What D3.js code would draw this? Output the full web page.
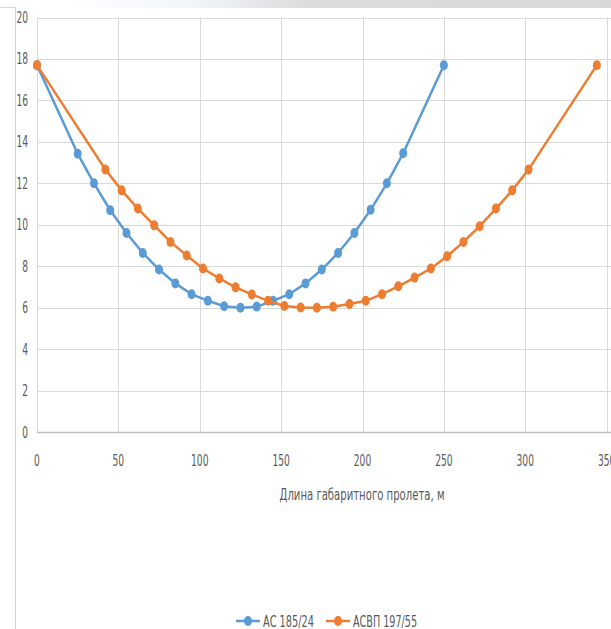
<html>
<head>
  <meta charset="utf-8">
  <style>
    body { margin: 0; background: #fff; }
    svg text { font-family: "Liberation Sans Narrow", "DejaVu Sans Condensed", sans-serif; fill: #595959; }
  </style>
</head>
<body>
  <div id="elm"></div>
  <script src="https://d3js.org/d3.v7.min.js"></script>
  <script>
  'use strict';

  // span length, m
  var acX = [0, 25, 35, 45, 55, 65, 75, 85, 95, 105, 115, 125, 135, 145, 155, 165, 175, 185, 195, 205, 215, 225, 250];
  var acY = [17.7, 13.43, 12.0, 10.7, 9.6, 8.64, 7.84, 7.17, 6.65, 6.33, 6.07, 6.0, 6.05, 6.33, 6.65, 7.17, 7.84, 8.64, 9.6, 10.72, 12.0, 13.45, 17.7];

  var acvpX = [0, 42, 52, 62, 72, 82, 92, 102, 112, 122, 132, 142, 152, 162, 172, 182, 192, 202, 212, 222, 232, 242, 252, 262, 272, 282, 292, 302, 344];
  var acvpY = [17.7, 12.67, 11.66, 10.78, 9.97, 9.17, 8.52, 7.89, 7.41, 6.98, 6.64, 6.33, 6.08, 6.01, 6.0, 6.04, 6.18, 6.33, 6.65, 7.03, 7.45, 7.89, 8.48, 9.17, 9.93, 10.78, 11.66, 12.66, 17.7];

  var xTicks = [0, 50, 100, 150, 200, 250, 300, 350, 400];
  var yTicks = [0, 2, 4, 6, 8, 10, 12, 14, 16, 18, 20];

  var series = [
    { name: 'АС 185/24', color: '#5B9BD5', x: acX, y: acY },
    { name: 'АСВП 197/55', color: '#ED7D31', x: acvpX, y: acvpY }
  ];

  var W = 611, H = 629;
  var svg = d3.select('#elm').append('svg').attr('width', W).attr('height', H);

  // faint strip along the top edge
  var grad = svg.append('defs').append('linearGradient').attr('id', 'topg');
  grad.append('stop').attr('offset', '0%').attr('stop-color', '#fff');
  grad.append('stop').attr('offset', '25%').attr('stop-color', '#eef6fa');
  grad.append('stop').attr('offset', '45%').attr('stop-color', '#dcdcdc');
  grad.append('stop').attr('offset', '100%').attr('stop-color', '#d8d8d8');
  svg.append('rect').attr('x', 60).attr('y', 0).attr('width', W - 60).attr('height', 8).attr('fill', 'url(#topg)');

  // outer frame
  svg.append('path').attr('d', 'M0,7.5H15.5V629').attr('fill', 'none').attr('stroke', '#d4d4d4');

  var x = d3.scaleLinear().domain([0, 400]).range([37, 688]);
  var y = d3.scaleLinear().domain([0, 20]).range([432, 17.5]);

  var g = svg.append('g');

  g.selectAll('line.h').data(yTicks.slice(1)).enter().append('line')
    .attr('x1', x(0)).attr('x2', x(400))
    .attr('y1', function(d) { return Math.round(y(d)) + 0.5; })
    .attr('y2', function(d) { return Math.round(y(d)) + 0.5; })
    .attr('stroke', '#d9d9d9');

  g.selectAll('line.v').data(xTicks).enter().append('line')
    .attr('y1', y(20)).attr('y2', y(0))
    .attr('x1', function(d) { return Math.round(x(d)) + 0.5; })
    .attr('x2', function(d) { return Math.round(x(d)) + 0.5; })
    .attr('stroke', '#d9d9d9');

  g.append('line').attr('x1', x(0)).attr('x2', x(400))
    .attr('y1', Math.round(y(0)) + 0.5).attr('y2', Math.round(y(0)) + 0.5)
    .attr('stroke', '#bfbfbf').attr('stroke-width', 1.5);

  // narrow, tall digits like the original font
  function digits(sel) {
    sel.style('font-size', '15px')
      .attr('textLength', function(d) { return String(d).length * 5.8; })
      .attr('lengthAdjust', 'spacingAndGlyphs')
      .text(function(d) { return d; });
  }

  g.selectAll('text.yt').data(yTicks).enter().append('text')
    .attr('x', 28).attr('y', function(d) { return y(d) + 5.5; })
    .attr('text-anchor', 'end').call(digits);

  g.selectAll('text.xt').data(xTicks).enter().append('text')
    .attr('x', function(d) { return x(d); }).attr('y', 466)
    .attr('text-anchor', 'middle').call(digits);

  g.append('text').attr('x', 362).attr('y', 500).attr('text-anchor', 'middle')
    .style('font-size', '16px').attr('textLength', 165).attr('lengthAdjust', 'spacingAndGlyphs')
    .text('Длина габаритного пролета, м');

  var line = d3.line().x(function(d) { return x(d[0]); }).y(function(d) { return y(d[1]); });

  series.forEach(function(s) {
    var pts = d3.zip(s.x, s.y);
    var sg = g.append('g');
    sg.append('path').datum(pts).attr('d', line).attr('fill', 'none')
      .attr('stroke', s.color).attr('stroke-width', 2.5);
    sg.selectAll('ellipse').data(pts).enter().append('ellipse')
      .attr('cx', function(d) { return x(d[0]); })
      .attr('cy', function(d) { return y(d[1]); })
      .attr('rx', 4).attr('ry', 5).attr('fill', s.color);
  });

  // legend
  var legX = [236, 326], legW = [51, 64];
  series.forEach(function(s, i) {
    var lg = svg.append('g').attr('transform', 'translate(' + legX[i] + ',621)');
    lg.append('line').attr('x1', 0).attr('x2', 24).attr('stroke', s.color).attr('stroke-width', 2.5);
    lg.append('ellipse').attr('cx', 12).attr('rx', 4).attr('ry', 5).attr('fill', s.color);
    lg.append('text').attr('x', 27).attr('y', 5.5).style('font-size', '15px')
      .attr('textLength', legW[i]).attr('lengthAdjust', 'spacingAndGlyphs').text(s.name);
  });
  </script>
</body>
</html>
